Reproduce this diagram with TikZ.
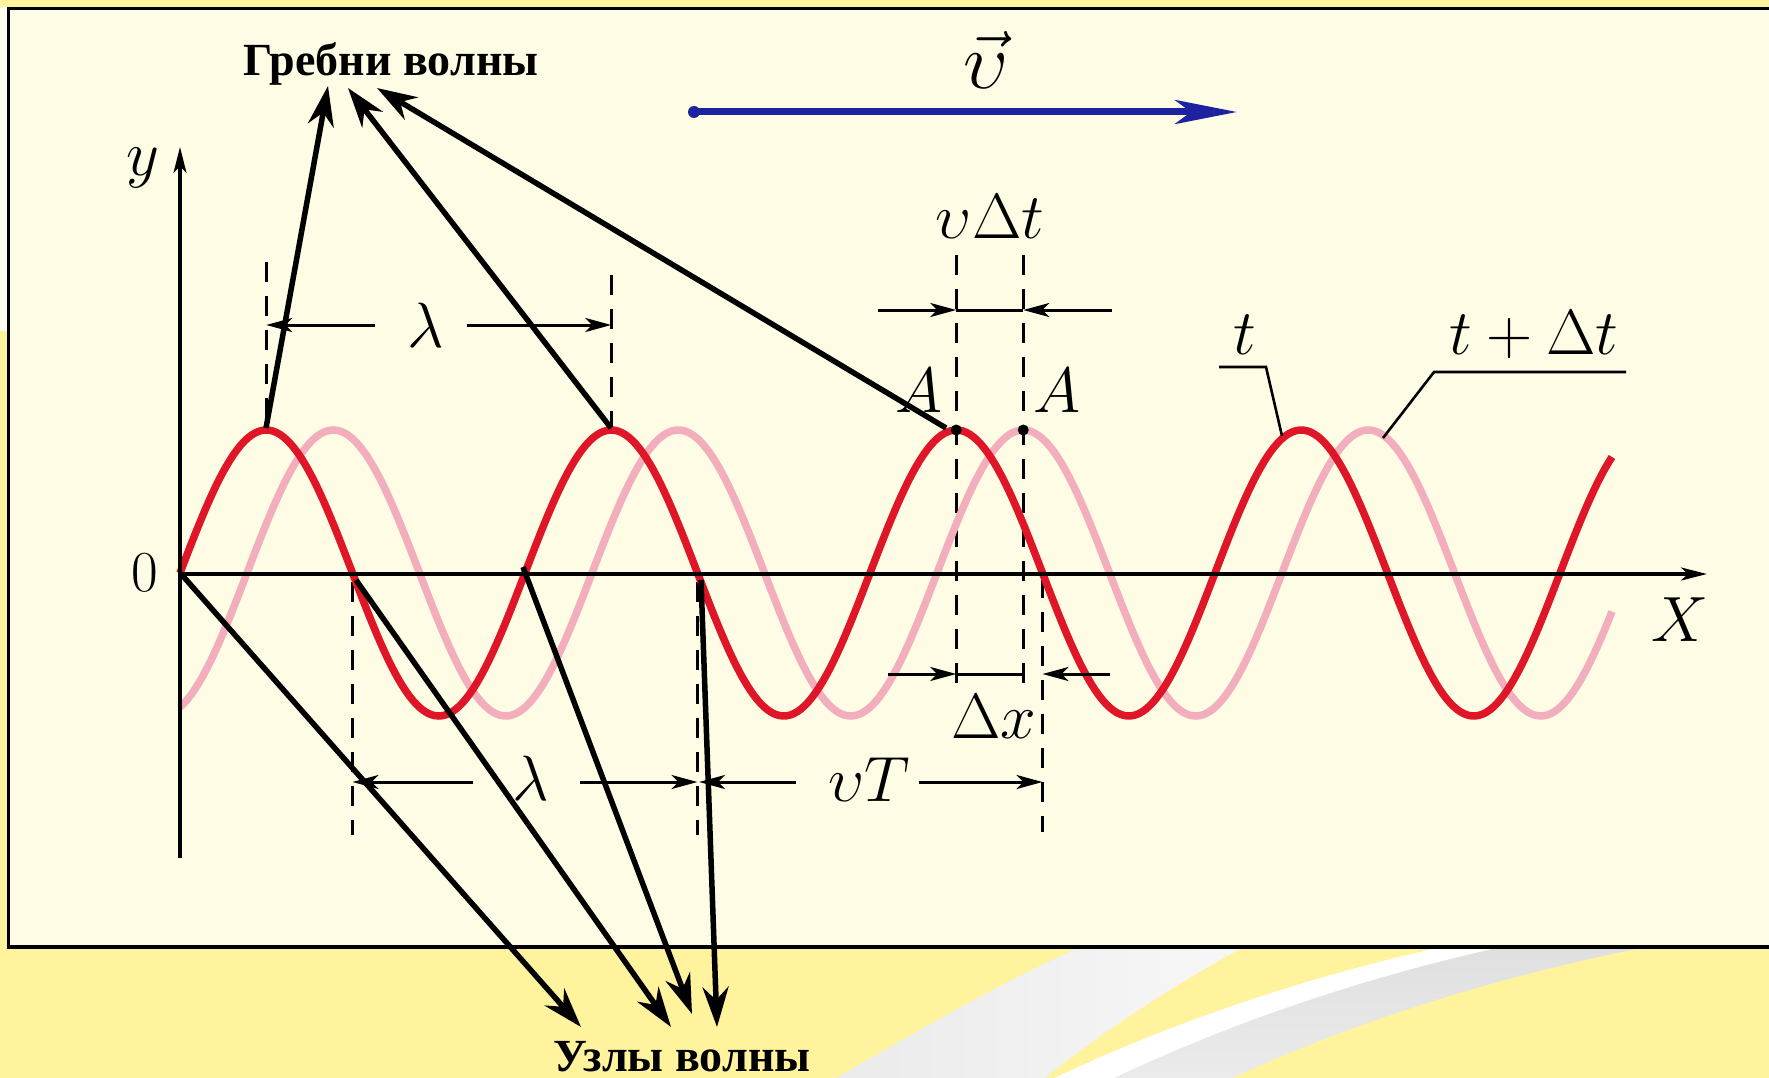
\RequirePackage{fix-cm}
\documentclass[tikz,border=0pt]{standalone}
\usepackage{fontspec}
\newfontfamily\cyrfont{Liberation Serif}
\usetikzlibrary{arrows.meta}
\definecolor{slideyellow}{RGB}{255,243,158}
\definecolor{cream}{RGB}{254,252,228}
\definecolor{palestrip}{RGB}{255,253,240}
\definecolor{bandAl}{RGB}{234,234,234}
\definecolor{bandAr}{RGB}{248,248,248}
\definecolor{bandBt}{RGB}{222,222,222}
\definecolor{bandBb}{RGB}{236,236,236}
\definecolor{wavered}{RGB}{222,22,40}
\definecolor{wavepink}{RGB}{242,174,188}
\definecolor{vblue}{RGB}{28,34,160}
\tikzset{
  dimarrow/.style={line width=3pt,-{Stealth[length=26pt,width=14pt,inset=7pt]}},
  dimline/.style={line width=3pt},
  dashv/.style={line width=3pt,dash pattern=on 20pt off 14pt},
  annot/.style={line width=5.5pt,-{Stealth[length=40pt,width=26pt,inset=13pt]}},
  axisline/.style={line width=3.5pt,-{Stealth[length=26pt,width=13pt,inset=7pt]}},
  leader/.style={line width=2.6pt},
  lbl/.style={font=\fontsize{64}{70}\selectfont,inner sep=0pt},
  rus/.style={font=\cyrfont\bfseries\fontsize{46}{50}\selectfont,inner sep=0pt},
  wave/.style={line width=7.5pt,domain=180:1612,samples=400}
}
\begin{document}
\begin{tikzpicture}[x=1pt,y=-1pt]
\useasboundingbox (0,0) rectangle (1769,1078);
\clip (0,0) rectangle (1769,1078);
% slide background
\fill[slideyellow] (0,0) rectangle (1769,1078);
\fill[palestrip] (0,7) rectangle (8,331);
\shade[left color=bandAl,right color=bandAr]
  (815,1090) .. controls (920,1030) and (1020,970) .. (1120,930)
  -- (1275,930) .. controls (1170,985) and (1090,1040) .. (1030,1090) -- cycle;
\fill[white]
  (1030,1090) .. controls (1170,1020) and (1350,960) .. (1530,930)
  -- (1590,930) .. controls (1410,960) and (1230,1020) .. (1090,1090) -- cycle;
\shade[top color=bandBt,bottom color=bandBb]
  (1090,1090) .. controls (1230,1020) and (1410,960) .. (1590,930)
  -- (1745,930) .. controls (1540,960) and (1350,1020) .. (1207,1090) -- cycle;
% frame
\filldraw[fill=cream,draw=black,line width=3.5pt] (8.5,8.5) rectangle (1800,947);

% dashed guide lines
\draw[dashv] (266.25,262) -- (266.25,430);
\draw[dashv] (611.25,275) -- (611.25,430);
\draw[dashv] (956.25,255) -- (956.25,697);
\draw[dashv] (1023.25,255) -- (1023.25,697);
\draw[dashv] (352.5,582) -- (352.5,835);
\draw[dashv] (697.5,582) -- (697.5,835);
\draw[dashv] (1042.5,578) -- (1042.5,832);

% waves
\draw[wave,wavepink] plot (\x,{573-143*sin(((\x-247)/345)*360)});
\draw[wave,wavered] plot (\x,{573-143*sin(((\x-180)/345)*360)});

% axes
\coordinate (ybot) at (180,858);
\coordinate (ytop) at (180,147);
\coordinate (O) at (180,574);
\coordinate (xend) at (1707,574);
\draw[axisline] (ybot) -- (ytop);
\draw[axisline] (O) -- (xend);

% points A
\coordinate (A1) at (956.25,430);
\coordinate (A2) at (1023.25,430);
\fill (A1) circle (5.5);
\fill (A2) circle (5.5);

% labels
\node[lbl] (ylab) at (143,168) {$y$};
\node[font=\fontsize{58}{64}\selectfont,inner sep=0pt] (zero) at (145,573) {0};
\node[lbl] (Xlab) at (1680,620) {$X$};
\node[lbl] (lam1) at (426,325) {$\lambda$};
\node[lbl] (lam2) at (531,778) {$\lambda$};
\node[lbl] (vT) at (869,780) {$\upsilon T$};
\node[lbl] (dx) at (994,717) {$\Delta x$};
\node[lbl] (vdt) at (990,217) {$\upsilon\Delta t$};
\node[lbl] (Al) at (919,391) {$A$};
\node[lbl] (Ar) at (1057,391) {$A$};
\node[lbl] (tl) at (1245,335) {$t$};
\node[lbl] (ttl) at (1534,335) {$t+\Delta t$};
\node[font=\fontsize{80}{86}\selectfont,inner sep=0pt] (vvec) at (986,60) {$\vec{\upsilon}$};

% dimension lines
\draw[dimarrow] (375,325) -- (266.25,325);
\draw[dimarrow] (467,325) -- (611.25,325);
\draw[dimarrow] (473,782) -- (352.5,782);
\draw[dimarrow] (580,782) -- (697.5,782);
\draw[dimarrow] (796,782) -- (699,782);
\draw[dimarrow] (919,782) -- (1042.5,782);
\draw[dimarrow] (878,310) -- (956.25,310);
\draw[dimline] (956.25,310) -- (1023.25,310);
\draw[dimarrow] (1112,310) -- (1023.25,310);
\draw[dimarrow] (888,674) -- (956.25,674);
\draw[dimline] (956.25,674) -- (1023.25,674);
\draw[dimarrow] (1110,674) -- (1042.5,674);

% leaders for t and t+dt
\draw[leader] (1219,367) -- (1266,367) -- (1282,436);
\draw[leader] (1626,372) -- (1434,372) -- (1383,438);

% velocity arrow
\coordinate (vstart) at (694,112);
\coordinate (vend) at (1237,112);
\fill[vblue] (vstart) circle (6);
\draw[vblue,line width=7pt,-{Stealth[length=62pt,width=24pt,inset=16pt]}] (vstart) -- (vend);

% annotation texts
\node[rus,anchor=base] (grebni) at (391,76) {Гребни волны};
\node[rus,anchor=base] (uzly) at (682,1071) {Узлы волны};

% crests -> text
\coordinate (cr1) at (266,428);
\coordinate (cr2) at (611,428);
\coordinate (cr3) at (946,428);
\coordinate (g1) at (328,86);
\coordinate (g2) at (348,88);
\coordinate (g3) at (377,88);
\draw[annot] (cr1) -- (g1);
\draw[annot] (cr2) -- (g2);
\draw[annot] (cr3) -- (g3);

% nodes -> text
\coordinate (z0) at (182,575);
\coordinate (z1) at (356,580);
\coordinate (z2) at (523,567);
\coordinate (z3) at (701,580);
\coordinate (u0) at (581,1027);
\coordinate (u1) at (671,1027);
\coordinate (u2) at (692,1014);
\coordinate (u3) at (717,1027);
\draw[annot] (z0) -- (u0);
\draw[annot] (z1) -- (u1);
\draw[annot] (z2) -- (u2);
\draw[annot] (z3) -- (u3);
\end{tikzpicture}
\end{document}
